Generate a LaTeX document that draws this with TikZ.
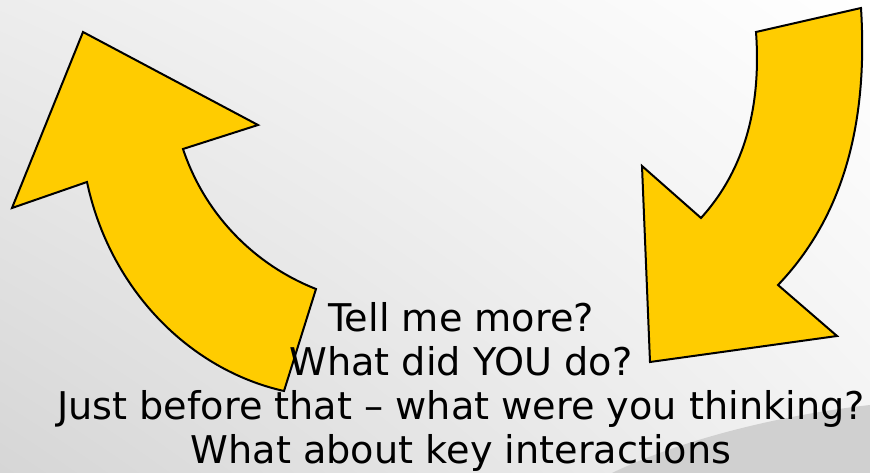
\documentclass[tikz,border=0pt]{standalone}
\usepackage{fontspec}
\usetikzlibrary{shadings}
\setmainfont{DejaVu Sans}
\definecolor{arrowyellow}{HTML}{FFCC00}
\definecolor{bgTL}{HTML}{EDEDED}
\definecolor{bgBL}{HTML}{D6D6D6}
\definecolor{bgBR}{HTML}{F2F2F2}
\definecolor{curlgray}{HTML}{D0D0D0}
\tikzset{
  bigarrow/.style={fill=arrowyellow, draw=black, line width=2bp, line join=miter},
  qtext/.style={anchor=base, inner sep=0pt, font=\fontsize{38.2bp}{44bp}\selectfont, text=black}
}
\begin{document}
\begin{tikzpicture}[x=1bp, y=-1bp]
\useasboundingbox (0,0) rectangle (870,473);
\shade[upper left=bgTL, upper right=white, lower left=bgBL, lower right=bgBR] (0,0) rectangle (870,473);
% gray page curl
\fill[curlgray] (612,473) .. controls (680,440) and (780,415) .. (870,405) -- (870,473) -- cycle;
% left arrow (points up-left)
\draw[bigarrow] (83,32) -- (258,125) -- (183,149)
  .. controls (205,215) and (255,265) .. (316,289)
  -- (284,391)
  .. controls (190,370) and (110,290) .. (87,182)
  -- (12,208) -- cycle;
% right arrow (points down-left)
\draw[bigarrow] (756,32) -- (861,8)
  .. controls (868,120) and (845,215) .. (778,285)
  -- (837,336) -- (650,362) -- (642,166) -- (701,218)
  .. controls (740,175) and (762,115) .. cycle;
\node[qtext] (t1) at (461,332) {Tell me more?};
\node[qtext] (t2) at (461,376) {What did YOU do?};
\node[qtext] (t3) at (461,419) {Just before that – what were you thinking?};
\node[qtext] (t4) at (461,463) {What about key interactions};
\end{tikzpicture}
\end{document}
